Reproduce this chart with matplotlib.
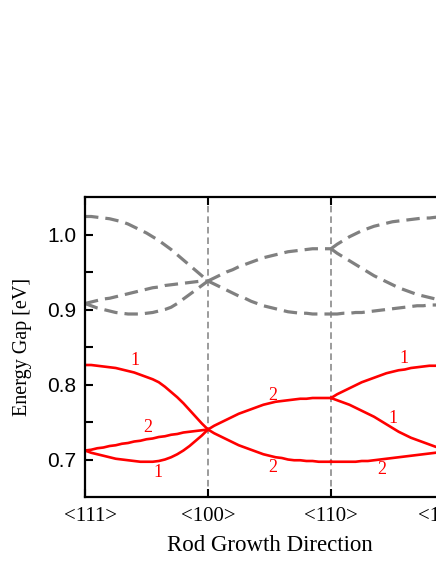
import numpy as np
import matplotlib.pyplot as plt
import matplotlib.transforms as mtransforms

# sample positions inside one direction segment (fraction of the way)
seg_x = np.linspace(0, 1, 21)

# grey dashed bands, per segment  (<111>-<100>, <100>-<110>, <110>-<111>)
gray_s1 = [
    [1.024, 1.024, 1.023, 1.022, 1.021, 1.019, 1.017, 1.014, 1.010, 1.006, 1.002,
     0.997, 0.992, 0.986, 0.980, 0.973, 0.966, 0.959, 0.952, 0.945, 0.938],
    [0.908, 0.910, 0.912, 0.914, 0.915, 0.917, 0.919, 0.921, 0.923, 0.925, 0.927,
     0.929, 0.930, 0.932, 0.933, 0.934, 0.935, 0.936, 0.937, 0.938, 0.938],
    [0.908, 0.905, 0.902, 0.900, 0.898, 0.896, 0.895, 0.894, 0.894, 0.894, 0.895,
     0.896, 0.898, 0.900, 0.903, 0.908, 0.914, 0.920, 0.926, 0.932, 0.938],
]
gray_s2 = [
    [0.938, 0.942, 0.946, 0.950, 0.953, 0.957, 0.960, 0.963, 0.966, 0.969, 0.971,
     0.973, 0.975, 0.977, 0.978, 0.979, 0.980, 0.981, 0.981, 0.981, 0.981],
    [0.938, 0.934, 0.930, 0.926, 0.922, 0.918, 0.915, 0.911, 0.908, 0.905, 0.903,
     0.901, 0.899, 0.897, 0.896, 0.895, 0.895, 0.894, 0.894, 0.894, 0.894],
]
gray_s3 = [
    [0.981, 0.987, 0.992, 0.997, 1.001, 1.005, 1.008, 1.011, 1.013, 1.015, 1.017,
     1.018, 1.019, 1.020, 1.021, 1.022, 1.022, 1.023, 1.023, 1.024, 1.024],
    [0.981, 0.975, 0.970, 0.965, 0.960, 0.955, 0.950, 0.945, 0.941, 0.937, 0.933,
     0.929, 0.926, 0.923, 0.920, 0.918, 0.916, 0.914, 0.912, 0.910, 0.908],
    [0.894, 0.894, 0.895, 0.895, 0.896, 0.896, 0.897, 0.898, 0.899, 0.900, 0.901,
     0.902, 0.903, 0.904, 0.905, 0.905, 0.906, 0.906, 0.907, 0.907, 0.908],
]

# red solid bands
red_s1 = [
    [0.826, 0.826, 0.825, 0.824, 0.823, 0.822, 0.820, 0.818, 0.816, 0.813, 0.810,
     0.807, 0.803, 0.797, 0.790, 0.783, 0.775, 0.766, 0.757, 0.748, 0.740],
    [0.712, 0.713, 0.715, 0.716, 0.718, 0.719, 0.721, 0.722, 0.724, 0.725, 0.727,
     0.728, 0.730, 0.731, 0.733, 0.734, 0.736, 0.737, 0.738, 0.739, 0.740],
    [0.712, 0.709, 0.707, 0.705, 0.703, 0.701, 0.700, 0.699, 0.698, 0.697, 0.697,
     0.697, 0.698, 0.700, 0.703, 0.707, 0.712, 0.718, 0.725, 0.732, 0.740],
]
red_s2 = [
    [0.740, 0.745, 0.749, 0.753, 0.757, 0.761, 0.764, 0.767, 0.770, 0.773, 0.775,
     0.777, 0.778, 0.779, 0.780, 0.781, 0.781, 0.782, 0.782, 0.782, 0.782],
    [0.740, 0.735, 0.731, 0.727, 0.723, 0.719, 0.716, 0.713, 0.710, 0.707, 0.705,
     0.703, 0.702, 0.700, 0.699, 0.699, 0.698, 0.698, 0.697, 0.697, 0.697],
]
red_s3 = [
    [0.782, 0.787, 0.791, 0.795, 0.799, 0.803, 0.806, 0.809, 0.812, 0.815, 0.817,
     0.819, 0.820, 0.822, 0.823, 0.824, 0.825, 0.825, 0.826, 0.826, 0.826],
    [0.782, 0.779, 0.776, 0.773, 0.769, 0.765, 0.761, 0.757, 0.752, 0.747, 0.742,
     0.737, 0.733, 0.729, 0.726, 0.723, 0.720, 0.717, 0.715, 0.713, 0.712],
    [0.697, 0.697, 0.697, 0.697, 0.697, 0.698, 0.698, 0.699, 0.700, 0.701, 0.702,
     0.703, 0.704, 0.705, 0.706, 0.707, 0.708, 0.709, 0.710, 0.711, 0.712],
]

# degeneracy labels
lab_txt = ['1', '2', '1', '2', '2', '1', '1', '2']
lab_x = [0.41, 0.51, 0.59, 1.53, 1.53, 2.59, 2.50, 2.41]
lab_y = [0.832, 0.743, 0.682, 0.785, 0.690, 0.835, 0.755, 0.686]

dirs = ['<111>', '<100>', '<110>', '<111>']

serif = ['Liberation Serif', 'DejaVu Serif']
sans = ['Liberation Sans', 'DejaVu Sans']

fig = plt.figure(figsize=(4.36, 5.64), dpi=100)
ax = fig.add_axes([85/436, 67/564, 369/436, 300/564])

for start, grp in [(0, gray_s1), (1, gray_s2), (2, gray_s3)]:
    for yy in grp:
        ax.plot(start + seg_x, yy, color='#808080', lw=2.3, dashes=(4.2, 2.2))
for start, grp in [(0, red_s1), (1, red_s2), (2, red_s3)]:
    for yy in grp:
        ax.plot(start + seg_x, yy, color='red', lw=1.9)

for xv in [1, 2]:
    ax.axvline(xv, color='#808080', lw=1.1, dashes=(4.3, 2.6), zorder=0)

for t, xv, yv in zip(lab_txt, lab_x, lab_y):
    ax.text(xv, yv, t, color='red', fontsize=13, family=serif,
            ha='center', va='center')

ax.set_xlim(0, 3)
ax.set_ylim(0.65, 1.05)
ax.set_xticks(range(len(dirs)))
ax.set_xticklabels(dirs, family=serif, fontsize=15)
ax.set_yticks([0.7, 0.8, 0.9, 1.0])
ax.set_yticks([0.75, 0.85, 0.95], minor=True)
ax.set_yticklabels(['0.7', '0.8', '0.9', '1.0'], family=sans, fontsize=15)
ax.tick_params(which='both', direction='in', length=6, width=1.5,
               top=True, right=True)
ax.tick_params(axis='x', pad=7)
ax.tick_params(axis='y', pad=6)
for s in ax.spines.values():
    s.set_linewidth(1.6)

# end direction labels are nudged inwards from their ticks
labs = ax.get_xticklabels()
for lbl, dx in [(labs[0], 4), (labs[-1], -6.5)]:
    lbl.set_transform(lbl.get_transform() +
                      mtransforms.ScaledTranslation(dx/72, 0, fig.dpi_scale_trans))

ax.set_xlabel('Rod Growth Direction', family=serif, fontsize=16.5)
ax.set_ylabel('Energy Gap [eV]', family=serif, fontsize=14.5)
ax.xaxis.set_label_coords(0.5, -0.128)
ax.yaxis.set_label_coords(-0.144, 0.5)

fig.savefig('out.png', dpi=100)
